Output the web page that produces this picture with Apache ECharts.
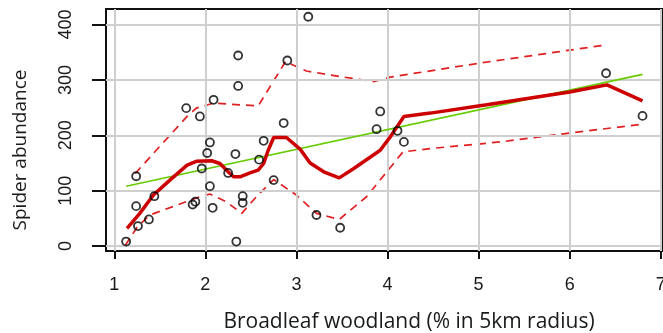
<!DOCTYPE html>
<html><head><meta charset="utf-8">
<script src="https://cdn.jsdelivr.net/npm/echarts@6/dist/echarts.min.js"></script>
<style>html,body{margin:0;padding:0;background:#fff}#c{width:663px;height:333px}</style>
</head><body><div id="c"></div>
<script>
// Observed points
const ptX = [1.13,1.26,1.24,1.38,1.44,1.24,1.79,1.94,1.86,1.89,1.96,2.05,2.08,2.02,2.05,2.09,2.36,2.36,2.33,2.25,2.41,2.41,2.34,2.59,2.64,2.86,2.75,2.90,3.22,3.13,3.48,3.92,3.88,4.11,4.18,6.40,6.80];
const ptY = [8,36,72,48,90,126,249,234,75,80,140,108,69,168,187,264,344,289,166,132,90,78,8,156,190,222,119,335,56,414,33,243,211,208,188,312,235];
// Linear fit (green)
const fitX = [1.13, 6.80];
const fitY = [108, 310];
// Smoother (red solid)
const smX = [1.14,1.28,1.43,1.61,1.80,1.90,2.07,2.16,2.25,2.31,2.38,2.49,2.58,2.64,2.69,2.75,2.89,3.04,3.15,3.30,3.47,3.63,3.92,4.03,4.18,4.47,5.09,6.00,6.41,6.80];
const smY = [32,59,92,119,146,153,154,149,134,125,125,132,137,149,173,196,196,175,150,134,123,140,173,197,234,240,255,278,291,262];
// Upper band (red dashed)
const upX = [1.23,1.50,1.80,1.90,2.09,2.58,2.88,3.11,3.48,3.85,4.03,5.00,6.35];
const upY = [131,180,234,249,258,253,333,316,306,297,305,330,362];
// Lower band (red dashed)
const loX = [1.12,1.25,1.39,1.69,1.94,2.05,2.23,2.40,2.56,2.75,3.00,3.22,3.47,3.77,4.17,4.47,5.24,6.00,6.80];
const loY = [1,34,56,74,89,94,80,59,89,120,92,59,48,89,170,176,188,204,220];
// Ticks
const xTicks = [1,2,3,4,5,6,7];
const yTicks = [0,100,200,300,400];

const zip = (a,b) => a.map((v,i) => [v, b[i]]);
const chart = echarts.init(document.getElementById('c'), null, {renderer:'canvas'});
const tickFont = {fontFamily:'Liberation Sans, Arial, sans-serif', fontSize:18, color:'#1a1a1a'};
const gridLine = {color:'#cfcfcf', width:2, type:'solid'};
chart.setOption({
  animation:false,
  backgroundColor:'#fff',
  grid:{left:106, right:1, top:9, bottom:82, show:true, borderColor:'#111', borderWidth:2, backgroundColor:'transparent', z:3,
    containLabel:false, outerBoundsMode:'none'},
  xAxis:{type:'value', min:0.909, max:7.014,
    axisLine:{show:false}, splitLine:{show:false},
    axisTick:{show:true, customValues:xTicks, length:13, lineStyle:{color:'#111', width:2}},
    axisLabel:{customValues:xTicks, margin:25, ...tickFont},
    name:'Broadleaf woodland (% in 5km radius)', nameLocation:'middle', nameGap:61, nameMoveOverlap:false,
    nameTextStyle:{fontFamily:'Open Sans, Lato, sans-serif', fontSize:21, color:'#1a1a1a', padding:[0,0,0,50]}
  },
  yAxis:{type:'value', min:-9, max:428,
    axisLine:{show:false}, splitLine:{show:false},
    axisTick:{show:true, customValues:yTicks, length:14, lineStyle:{color:'#111', width:2}},
    axisLabel:{customValues:yTicks, rotate:90, margin:31, ...tickFont},
    name:'Spider abundance', nameLocation:'middle', nameGap:76, nameMoveOverlap:false,
    nameTextStyle:{fontFamily:'Open Sans, Lato, sans-serif', fontSize:19, color:'#1a1a1a', padding:[0,40,0,0]}
  },
  series:[
    {type:'line', data:[], silent:true, z:1,
      markLine:{silent:true, symbol:'none', label:{show:false}, lineStyle:gridLine, animation:false,
        data:[...xTicks.map(v=>({xAxis:v})), ...yTicks.map(v=>({yAxis:v}))]}},
    {type:'line', data:zip(upX,upY), showSymbol:false, symbol:'none', z:4,
      lineStyle:{color:'#e02020', width:1.7, type:[8,6]}},
    {type:'line', data:zip(loX,loY), showSymbol:false, symbol:'none', z:4,
      lineStyle:{color:'#e02020', width:1.7, type:[8,6]}},
    {type:'line', data:zip(fitX,fitY), showSymbol:false, symbol:'none', z:5,
      lineStyle:{color:'#66cc00', width:1.6}},
    {type:'line', data:zip(smX,smY), showSymbol:false, symbol:'none', z:6,
      lineStyle:{color:'#cc0000', width:3.5}},
    {type:'scatter', data:zip(ptX,ptY), symbol:'circle', symbolSize:8, clip:false, z:7,
      itemStyle:{color:'rgba(0,0,0,0)', borderColor:'#000', borderWidth:1.8}}
  ]
});
</script></body></html>
